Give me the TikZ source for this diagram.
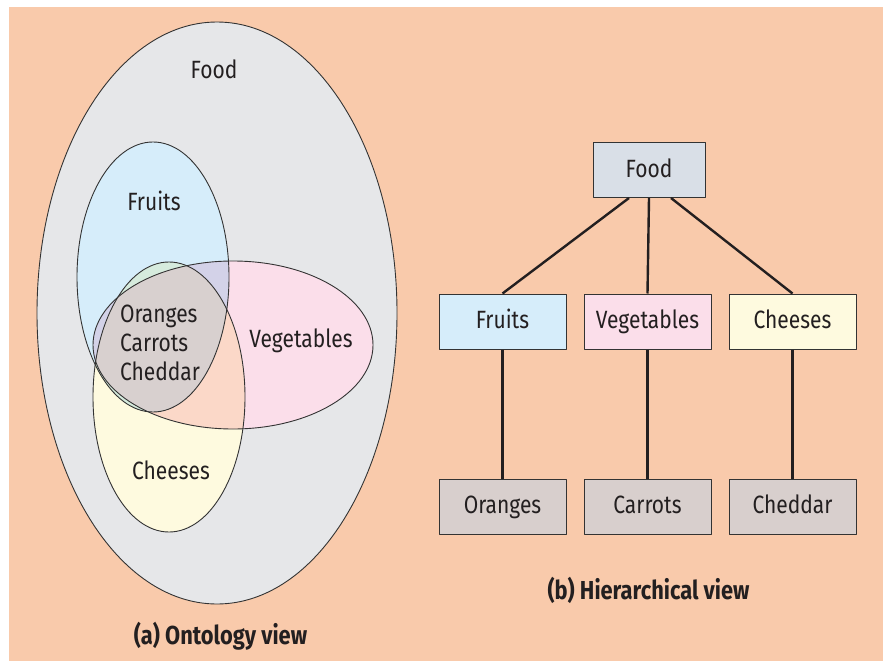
\documentclass[tikz,border=0pt]{standalone}
\usepackage{fontspec}
\setmainfont{Fira Sans}[FakeStretch=0.84]
\usetikzlibrary{positioning}
\definecolor{pfirsich}{HTML}{F9CAAB}
\definecolor{essen}{HTML}{E6E7E9}
\definecolor{frucht}{HTML}{D6EDFA}
\definecolor{gemuese}{HTML}{FBDEEA}
\definecolor{kaese}{HTML}{FEFADF}
\definecolor{fruchtgemuese}{HTML}{D3D2E8}
\definecolor{fruchtkaese}{HTML}{D6EBDD}
\definecolor{gemuesekaese}{HTML}{FBD8C8}
\definecolor{alle}{HTML}{D8D0CF}
\definecolor{wurzel}{HTML}{D9DFE7}
\definecolor{blatt}{HTML}{D8CFCD}
\definecolor{rand}{HTML}{333333}
\definecolor{linie}{HTML}{231F20}
\begin{document}
\begin{tikzpicture}[x=1pt,y=-1pt,line join=round,
	menge/.style={draw = rand, line width = 0.9pt},
	schrift/.style={font = \fontsize{25}{29}\selectfont, text = linie},
	kasten/.style={schrift, draw = rand, line width = 1pt, minimum width = 127pt, minimum height = 55pt, inner sep = 0pt, text height = 17pt, text depth = 3pt},
	kante/.style={line width = 2.4pt, color = linie},
	titel/.style={font = \fontsize{26}{30}\selectfont\bfseries, text = linie}]
	% Hintergrund
	\fill [color = white] (0,0) rectangle (883,661);
	\fill [color = pfirsich] (9,7) rectangle (883,661);
	% Ontologie
	\filldraw [menge, fill = essen] (217,313) ellipse [x radius = 180, y radius = 291];
	\fill [color = frucht] (153,277) ellipse [x radius = 76, y radius = 135];
	\fill [color = gemuese] (233,345) ellipse [x radius = 140, y radius = 84];
	\fill [color = kaese] (169,397) ellipse [x radius = 76, y radius = 135];
	\begin{scope}
		\clip (233,345) ellipse [x radius = 140, y radius = 84];
		\fill [color = gemuesekaese] (169,397) ellipse [x radius = 76, y radius = 135];
	\end{scope}
	\begin{scope}
		\clip (153,277) ellipse [x radius = 76, y radius = 135];
		\fill [color = fruchtgemuese] (233,345) ellipse [x radius = 140, y radius = 84];
		\fill [color = fruchtkaese] (169,397) ellipse [x radius = 76, y radius = 135];
		\clip (233,345) ellipse [x radius = 140, y radius = 84];
		\fill [color = alle] (169,397) ellipse [x radius = 76, y radius = 135];
	\end{scope}
	\draw [menge] (153,277) ellipse [x radius = 76, y radius = 135];
	\draw [menge] (233,345) ellipse [x radius = 140, y radius = 84];
	\draw [menge] (169,397) ellipse [x radius = 76, y radius = 135];
	\node (essenlabel) [schrift, anchor = base] at (214,78) {Food};
	\node (fruchtlabel) [schrift, anchor = base] at (154,210) {Fruits};
	\node (gemueselabel) [schrift, anchor = base] at (301,347) {Vegetables};
	\node (kaeselabel) [schrift, anchor = base] at (171,479) {Cheeses};
	\node (gemeinsam) [schrift, align = left, inner sep = 0pt] at (160,343) {Oranges\\Carrots\\Cheddar};
	% Hierarchie
	\node (food) [kasten, fill = wurzel, minimum width = 112pt] at (649,170) {Food};
	\node (fruits) [kasten, fill = frucht] at (502.5,321.5) {Fruits};
	\node (vegetables) [kasten, fill = gemuese] at (647.5,321.5) {Vegetables};
	\node (cheeses) [kasten, fill = kaese] at (792.5,321.5) {Cheeses};
	\node (oranges) [kasten, fill = blatt] at (502.5,506.5) {Oranges};
	\node (carrots) [kasten, fill = blatt] at (647.5,506.5) {Carrots};
	\node (cheddar) [kasten, fill = blatt] at (792.5,506.5) {Cheddar};
	\draw [kante] ([xshift = -20pt]food.south) -- (fruits.north);
	\draw [kante] (food.south) -- (vegetables.north);
	\draw [kante] ([xshift = 22pt]food.south) -- (cheeses.north);
	\draw [kante] (fruits) -- (oranges);
	\draw [kante] (vegetables) -- (carrots);
	\draw [kante] (cheeses) -- (cheddar);
	% Bildunterschriften
	\node (ontotitel) [titel, anchor = base] at (220.5,644) {(a) Ontology view};
	\node (hiertitel) [titel, anchor = base] at (648.5,599) {(b) Hierarchical view};
\end{tikzpicture}
\end{document}
